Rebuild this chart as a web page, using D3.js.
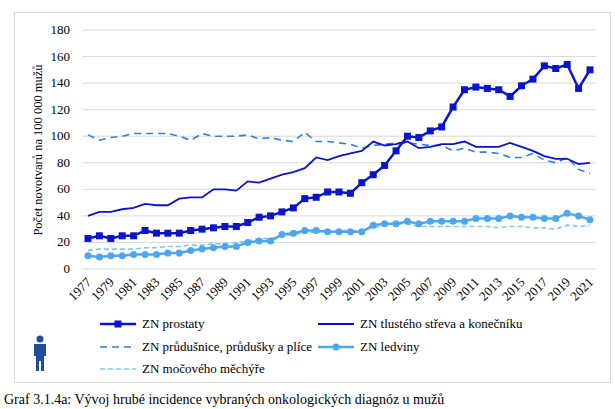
<!DOCTYPE html><html><head><meta charset="utf-8"><script src="https://cdn.jsdelivr.net/npm/d3@7"></script>
<style>body{margin:0;background:#fff}svg text{font-family:'Liberation Serif','DejaVu Serif',serif}</style></head><body><svg id="c" width="615" height="409" font-family="Liberation Serif, DejaVu Serif, serif"></svg>
<script>
const years=d3.range(1977,2022);
const prostate=[23,25,23,25,25,29,27,27,27,29,30,31,32,32,35,39,40,43,46,53,54,58,58,57,65,71,78,89,100,99,104,107,122,135,137,136,135,130,138,143,153,151,154,136,150];
const colorectal=[40,43,43,45,46,49,48,48,53,54,54,60,60,59,66,65,68,71,73,76,84,82,85,87,89,96,93,94,96,91,92,94,94,96,92,92,92,95,92,89,85,83,83,79,80];
const lung=[101,97,99,100,102,102,102,102,100,97,102,100,100,100,101,98,99,97,96,103,96,96,95,94,91,93,94,95,95,94,93,93,89,91,88,88,87,84,84,87,82,80,84,75,72];
const kidney=[10,9,10,10,11,11,11,12,12,14,15,16,17,17,20,21,21,26,27,29,29,28,28,28,28,33,34,34,36,34,36,36,36,36,38,38,38,40,39,39,38,38,42,40,37];
const bladder=[14,15,15,15,15,16,16,17,17,18,18,19,19,20,21,23,23,25,26,27,28,28,29,29,29,31,33,34,34,32,32,32,32,32,32,32,31,32,32,31,31,30,33,32,33];
const yTicks=d3.range(0,181,20);
const series=[
 {name:"ZN prostaty",v:prostate,c:"#0a14c8",w:2.5,dash:null,m:"sq"},
 {name:"ZN tlustého střeva a konečníku",v:colorectal,c:"#0a14c8",w:1.8,dash:null,m:null},
 {name:"ZN průdušnice, průdušky a plíce",v:lung,c:"#2f7fe0",w:1.6,dash:"7,5",m:null},
 {name:"ZN ledviny",v:kidney,c:"#4da6f0",w:2.5,dash:null,m:"ci"},
 {name:"ZN močového měchýře",v:bladder,c:"#7cc8f5",w:1.6,dash:"5,3",m:null}];
const svg=d3.select("#c");
svg.append("rect").attr("x",14.5).attr("y",12.5).attr("width",596).attr("height",370).attr("fill","none").attr("stroke","#d9d9d9");
const x=d3.scaleLinear().domain([1977,2021]).range([88,590]);
const y=d3.scaleLinear().domain([0,180]).range([269,30]);
svg.append("g").selectAll("line").data(yTicks).join("line").attr("x1",82).attr("x2",596).attr("y1",d=>y(d)).attr("y2",d=>y(d)).attr("stroke","#d9d9d9");
svg.append("g").selectAll("text").data(yTicks).join("text").attr("x",70).attr("y",d=>y(d)+4).attr("text-anchor","end").attr("font-size",13).text(d=>d);
svg.append("g").selectAll("text").data(years.filter(d=>(d-1977)%2==0)).join("text").attr("transform",d=>`translate(${x(d)+4},${283}) rotate(-45)`).attr("text-anchor","end").attr("font-size",13).text(d=>d);
svg.append("text").attr("transform","translate(42,150) rotate(-90)").attr("text-anchor","middle").attr("font-size",12.5).text("Počet novotvarů na 100 000 mužů");
const line=d3.line().x((d,i)=>x(years[i])).y(d=>y(d));
[2,4,1,3,0].forEach(k=>{const s=series[k];
 svg.append("path").attr("d",line(s.v)).attr("fill","none").attr("stroke",s.c).attr("stroke-width",s.w).attr("stroke-dasharray",s.dash);
 if(s.m=="sq")svg.append("g").selectAll("rect").data(s.v).join("rect").attr("x",(d,i)=>x(years[i])-3.5).attr("y",d=>y(d)-3.5).attr("width",7).attr("height",7).attr("fill",s.c);
 if(s.m=="ci")svg.append("g").selectAll("circle").data(s.v).join("circle").attr("cx",(d,i)=>x(years[i])).attr("cy",d=>y(d)).attr("r",3.5).attr("fill",s.c);
});
const pos=[[100,324],[318,324],[100,347],[318,347],[100,369]];
series.forEach((s,i)=>{const [lx,ly]=pos[i];const g=svg.append("g");
 g.append("line").attr("x1",lx).attr("x2",lx+36).attr("y1",ly).attr("y2",ly).attr("stroke",s.c).attr("stroke-width",s.w).attr("stroke-dasharray",s.dash);
 if(s.m=="sq")g.append("rect").attr("x",lx+14.5).attr("y",ly-3.5).attr("width",7).attr("height",7).attr("fill",s.c);
 if(s.m=="ci")g.append("circle").attr("cx",lx+18).attr("cy",ly).attr("r",3.5).attr("fill",s.c);
 g.append("text").attr("x",lx+42).attr("y",ly+4).attr("font-size",13).text(s.name);});
const p=svg.append("g").attr("fill","#1f4e99");
p.append("circle").attr("cx",40).attr("cy",339).attr("r",3.5);
p.append("path").attr("d","M34,344 h12 v12 h-2 v15 h-3 v-10 h-2 v10 h-3 v-15 h-2 z");
svg.append("text").attr("x",4).attr("y",404).attr("font-size",14).text("Graf 3.1.4a: Vývoj hrubé incidence vybraných onkologických diagnóz u mužů");
</script></body></html>
